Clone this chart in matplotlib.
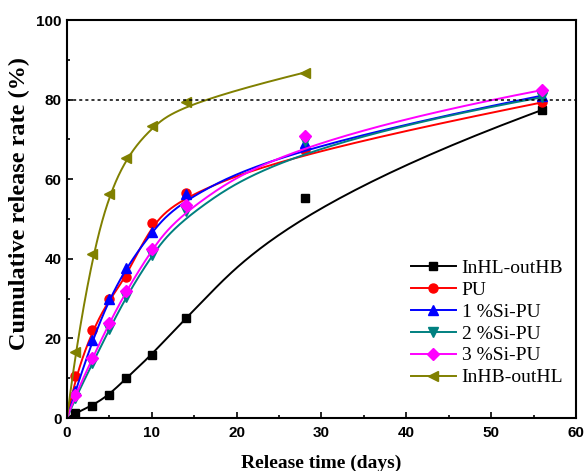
import matplotlib
matplotlib.use('Agg')
import matplotlib.pyplot as plt
import numpy as np

days = [0, 1, 3, 5, 7, 10, 14, 28, 56]
days_short = [0, 1, 3, 5, 7, 10, 14, 28]

inhl_outhb = [0, 1.2, 3.1, 5.9, 10.0, 15.9, 25.2, 55.4, 77.4]
pu = [0, 10.6, 22.2, 29.8, 35.5, 49.0, 56.6, 67.3, 79.3]
si1 = [0, 6.8, 19.6, 29.8, 37.8, 46.8, 56.4, 69.0, 81.0]
si2 = [0, 5.0, 13.7, 22.3, 30.5, 41.0, 52.0, 69.6, 80.6]
si3 = [0, 5.8, 15.0, 23.9, 31.9, 42.4, 53.5, 70.9, 82.4]
inhb_outhl = [0, 16.7, 41.2, 56.2, 65.4, 73.4, 79.4, 86.8]

ref_level = 80


def bspline(xs, ys, n=300, k=3):
    # clamped uniform cubic B-spline using the data as control points
    cp = np.column_stack([xs, ys]).astype(float)
    m = len(cp)
    knots = np.concatenate([np.zeros(k), np.arange(0, m - k + 1), np.full(k, m - k)])
    out = []
    for t in np.linspace(0, m - k, n):
        s = np.searchsorted(knots, t, side='right') - 1
        s = min(s, m - 1)
        d = [cp[j + s - k].copy() for j in range(k + 1)]
        for r in range(1, k + 1):
            for j in range(k, r - 1, -1):
                i = j + s - k
                den = knots[j + 1 + s - r] - knots[i]
                a = (t - knots[i]) / den if den else 0.0
                d[j] = (1 - a) * d[j - 1] + a * d[j]
        out.append(d[k])
    out = np.array(out)
    return out[:, 0], out[:, 1]


series = [
    (days, inhl_outhb, 'black', 's', 5.5, 'InHL-outHB'),
    (days, pu, 'red', 'o', 6.5, 'PU'),
    (days, si1, 'blue', '^', 7.5, '1 %Si-PU'),
    (days, si2, '#008080', 'v', 7.5, '2 %Si-PU'),
    (days, si3, '#FF00FF', 'D', 6, '3 %Si-PU'),
    (days_short, inhb_outhl, '#808000', '<', 7.5, 'InHB-outHL'),
]

fig = plt.figure(figsize=(5.87, 4.71), dpi=100)
ax = fig.add_axes([0.1141, 0.1125, 0.8672, 0.845])

for xs, ys, c, mk, ms, lab in series:
    cx, cy = bspline(xs, ys)
    ax.plot(cx, cy, color=c, lw=1.4)
    ax.plot(xs[1:], ys[1:], linestyle='none', marker=mk, ms=ms, color=c)
    # legend proxy: line with marker in the middle
    ax.plot([], [], color=c, lw=1.4, marker=mk, ms=ms, label=lab)

ax.axhline(ref_level, color='black', lw=1.1, linestyle=(0, (2, 2)))

ax.set_xlim(0, 60)
ax.set_ylim(0, 100)
ax.set_xticks([0, 10, 20, 30, 40, 50, 60])
ax.set_xticks(np.arange(5, 60, 10), minor=True)
ax.set_yticks([0, 20, 40, 60, 80, 100])
ax.set_yticks(np.arange(10, 100, 20), minor=True)
ax.tick_params(which='both', direction='in', top=False, right=False, width=1.2)
ax.tick_params(which='major', length=4.5)
ax.tick_params(which='minor', length=2.5)
ax.tick_params(axis='x', pad=6)
ax.tick_params(axis='y', pad=4)
for lbl in ax.get_xticklabels() + ax.get_yticklabels():
    lbl.set_fontfamily('Liberation Sans')
    lbl.set_fontweight('bold')
    lbl.set_fontsize(11)
for sp in ax.spines.values():
    sp.set_linewidth(1.5)

ax.set_xlabel('Release time (days)', fontfamily='Liberation Serif',
              fontweight='bold', fontsize=14, labelpad=10)
ax.set_ylabel('Cumulative release rate (%)', fontfamily='Liberation Serif',
              fontweight='bold', fontsize=17.5)
ax.yaxis.set_label_coords(-0.072, 0.54)

leg = ax.legend(loc='lower right', bbox_to_anchor=(0.99, 0.06), frameon=False,
                prop={'family': 'Liberation Serif', 'size': 14},
                handlelength=2.3, handletextpad=0.3, labelspacing=0.22,
                borderaxespad=0)

fig.savefig('out.png', dpi=100)
